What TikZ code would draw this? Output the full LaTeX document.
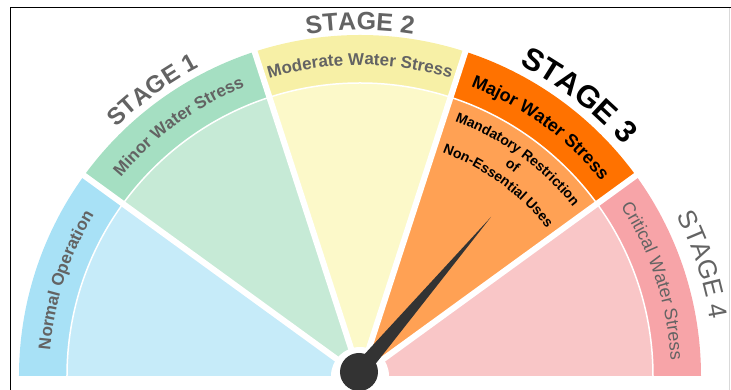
\documentclass[tikz,border=0pt]{standalone}
\usepackage{fontspec}
\setmainfont{Liberation Sans}
\usepackage{tikz}
\usetikzlibrary{decorations.text,calc}

\definecolor{bandblue}{HTML}{A8E1F6}
\definecolor{innerblue}{HTML}{C6EBF9}
\definecolor{bandgreen}{HTML}{A5DFC2}
\definecolor{innergreen}{HTML}{C6EAD6}
\definecolor{bandyellow}{HTML}{F7F0A6}
\definecolor{inneryellow}{HTML}{FCF9C9}
\definecolor{bandorange}{HTML}{FF7200}
\definecolor{innerorange}{HTML}{FFA154}
\definecolor{bandpink}{HTML}{F7A4A8}
\definecolor{innerpink}{HTML}{F9C6C7}
\definecolor{stagegray}{HTML}{636363}
\definecolor{needlegray}{HTML}{333333}

\begin{document}
\begin{tikzpicture}[x=1pt, y=1pt]
        \tikzstyle{gap} = [draw=white, line width=6pt]
        \tikzstyle{bandtext} = [decorate, decoration={text along path, text align=center}]
        \tikzstyle{needle} = [fill=needlegray]

        \useasboundingbox (-360,-14) rectangle (371,376);

        % frame
        \draw[line width=1.6pt] (-349.5,-14) -- (-349.5,368.5) -- (371,368.5);
        \draw[black!15, line width=0.8pt] (369,-14) -- (369,367.5);

        % sectors
        \foreach \a/\c in {144/blue, 108/green, 72/yellow, 36/orange, 0/pink} {
            \fill[inner\c] (0,0) -- (\a:293) arc[start angle=\a, end angle=\a+36, radius=293] -- cycle;
            \fill[band\c] (\a:293) arc[start angle=\a, end angle=\a+36, radius=293]
                -- (\a+36:341) arc[start angle=\a+36, end angle=\a, radius=341] -- cycle;
        }
        \draw[white, line width=1.5pt] (0:293) arc[start angle=0, end angle=180, radius=293];
        \foreach \a in {36,72,108,144}
            \draw[gap] (0,0) -- (\a:346);
        \fill[white] (0,0) circle[radius=29];

        % band labels
        \path[bandtext, decoration={text color=stagegray, text={|\bfseries\fontsize{17}{17}\selectfont|Normal Operation}}]
            (180:311) arc[start angle=180, end angle=144, radius=311];
        \path[bandtext, decoration={text color=stagegray, text={|\bfseries\fontsize{17}{17}\selectfont|Minor Water Stress}}]
            (144:311) arc[start angle=144, end angle=108, radius=311];
        \path[bandtext, decoration={text color=stagegray, text={|\bfseries\fontsize{17}{17}\selectfont|Moderate Water Stress}}]
            (108:311) arc[start angle=108, end angle=72, radius=311];
        \path[bandtext, decoration={text color=black, text={|\bfseries\fontsize{18}{18}\selectfont|Major Water Stress}}]
            (72:310) arc[start angle=72, end angle=36, radius=310];
        \path[bandtext, decoration={text color=stagegray, text={|\fontsize{18}{18}\selectfont|Critical Water Stress}}]
            (36:311) arc[start angle=36, end angle=0, radius=311];

        % stage 3 detail
        \path[bandtext, decoration={text color=black, text={|\bfseries\fontsize{14}{14}\selectfont|Mandatory Restriction}}]
            (72:272) arc[start angle=72, end angle=36, radius=272];
        \path[bandtext, decoration={text color=black, text={|\bfseries\fontsize{14}{14}\selectfont|of}}]
            (72:255) arc[start angle=72, end angle=36, radius=255];
        \path[bandtext, decoration={text color=black, text={|\bfseries\fontsize{14}{14}\selectfont|Non-Essential Uses}}]
            (72:238) arc[start angle=72, end angle=36, radius=238];

        % stage titles
        \path[bandtext, decoration={text color=stagegray, text={|\bfseries\fontsize{24}{24}\selectfont|STAGE 1}}]
            (144:348) arc[start angle=144, end angle=108, radius=348];
        \path[bandtext, decoration={text color=stagegray, text={|\bfseries\fontsize{25}{25}\selectfont|STAGE 2}}]
            (108:346) arc[start angle=108, end angle=72, radius=346];
        \path[bandtext, decoration={text color=black, text={|\bfseries\fontsize{31}{31}\selectfont|STAGE 3}}]
            (72:350) arc[start angle=72, end angle=32, radius=350];
        \path[bandtext, decoration={text color=stagegray, text={|\fontsize{26}{26}\selectfont|STAGE 4}}]
            (36:355) arc[start angle=36, end angle=0, radius=355];

        % needle
        \coordinate (hub) at (-1,4);
        \coordinate (tip) at (131,159);
        \fill[needle] (tip) -- ($(hub)+(139.6:8)$) -- ($(hub)+(-40.4:8)$) -- cycle;
        \fill[needle] (hub) circle[radius=19];
\end{tikzpicture}
\end{document}
